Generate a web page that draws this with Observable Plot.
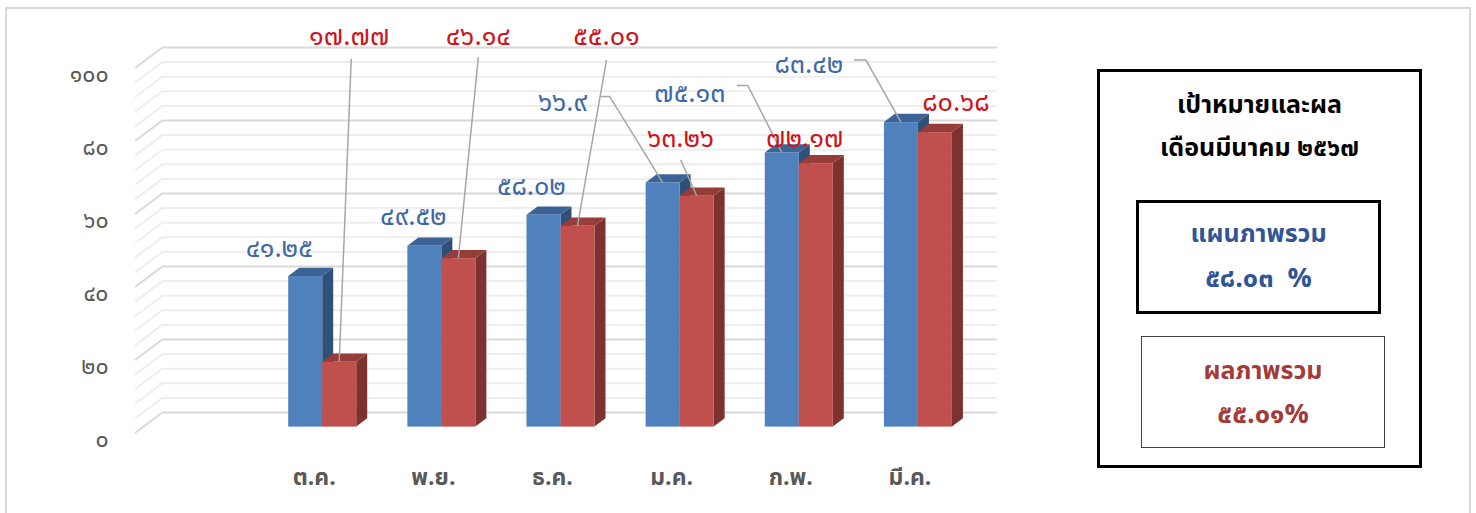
<!DOCTYPE html>
<html><head><meta charset="utf-8">
<script src="https://cdn.jsdelivr.net/npm/d3@7"></script>
<script src="https://cdn.jsdelivr.net/npm/@observablehq/plot@0.6"></script>
<style>
body{margin:0;background:#fff;font-family:"Noto Sans Thai","Noto Sans Thai Looped","Noto Sans",sans-serif;}
#frame{position:absolute;left:5px;top:7px;width:1466px;height:530px;border:2px solid #d9d9d9;box-sizing:border-box;}
#chart{position:absolute;left:0;top:0;}
#panel{position:absolute;left:1097px;top:69px;width:325px;height:399px;border:3px solid #000;box-sizing:border-box;}
.line{position:absolute;left:0;width:100%;text-align:center;line-height:30px;height:30px;white-space:pre;font-weight:bold;font-size:25px;}
.num{font-size:27px;}
.box{position:absolute;box-sizing:border-box;}
</style></head><body>
<div id="frame"></div>
<div id="chart"></div>
<div id="panel">
  <div class="line" style="top:18px;color:#000">เป้าหมายและผล</div>
  <div class="line" style="top:61px;color:#000">เดือนมีนาคม ๒๕๖๗</div>
  <div class="box" style="left:36px;top:128px;width:245px;height:114px;border:3px solid #000;">
    <div class="line" style="top:16px;color:#2F5597">แผนภาพรวม</div>
    <div class="line num" style="top:61px;color:#2F5597">๕๘.๐๓  %</div>
  </div>
  <div class="box" style="left:41px;top:264px;width:244px;height:112px;border:1.5px solid #404040;">
    <div class="line" style="top:19px;color:#A33B39">ผลภาพรวม</div>
    <div class="line num" style="top:63px;color:#A33B39">๕๕.๐๑%</div>
  </div>
</div>
<script>
// ---- data ----
const months = ["ต.ค.", "พ.ย.", "ธ.ค.", "ม.ค.", "ก.พ.", "มี.ค."];
const plan = [41.25, 49.52, 58.02, 66.9, 75.13, 83.42];
const result = [17.77, 46.14, 55.01, 63.26, 72.17, 80.68];
const yTicks = [0, 20, 40, 60, 80, 100];
const gridValues = d3.range(0, 101, 4);

const thaiDigits = "๐๑๒๓๔๕๖๗๘๙";
const toThai = v => String(v).replace(/\d/g, d => thaiDigits[+d]);

// ---- layout / style (pixels) ----
const W = 1080, H = 513;
const wall = [28, -21];
const shift = [8.5, -6.4];
const depth = [11, -8.25];
const barW = 0.2854;
const C = {
  planFront: "#4F81BD", planTop: "#3C6396", planSide: "#2F5078",
  resFront: "#C0504D", resTop: "#963D3A", resSide: "#7D3230",
  planText: "#3F69A6", resText: "#D0141C",
  gridMinor: "#EEEEEE", gridMajor: "#D9D9D9", leader: "#A6A6A6", axis: "#595959"
};
const planLayout = [
  {dx: -26, dy: -27}, {dx: -11, dy: -28}, {dx: -12, dy: -27},
  {dx: -100, dy: -79, leader: [[-62, -86], [-53, -86]]},
  {dx: -92, dy: -58, leader: [[-45, -67], [-34, -67]]},
  {dx: -92, dy: -57, leader: [[-47, -62], [-35, -62]]}
];
const resultLayout = [
  {dx: 10, dy: -324, leader: [[12, -303]]},
  {dx: 20, dy: -221, leader: [[20, -201]]},
  {dx: 29, dy: -188, leader: [[29, -166]]},
  {dx: -16, dy: -56, leader: [[-16, -36]]},
  {dx: -11, dy: -24}, {dx: 21, dy: -29}
];

const rows = months.map((m, i) => ({month: m, pos: i + 1.5, plan: plan[i], result: result[i]}));

const faces = (key, x1f, x2f, topColor, sideColor) => (index, scales) => {
  const g = d3.create("svg:g");
  for (const d of rows) {
    const xl = scales.x(x1f(d)) + shift[0], xr = scales.x(x2f(d)) + shift[0];
    const yt = scales.y(d[key]) + shift[1], yb = scales.y(0) + shift[1];
    g.append("path").attr("fill", sideColor)
      .attr("d", `M${xr},${yb}L${xr + depth[0]},${yb + depth[1]}L${xr + depth[0]},${yt + depth[1]}L${xr},${yt}Z`);
    g.append("path").attr("fill", topColor)
      .attr("d", `M${xl},${yt}L${xr},${yt}L${xr + depth[0]},${yt + depth[1]}L${xl + depth[0]},${yt + depth[1]}Z`);
  }
  return g.node();
};

const diagonals = (index, scales) => {
  const g = d3.create("svg:g");
  const x0 = scales.x(0);
  for (const v of gridValues) {
    const y0 = scales.y(v);
    g.append("line").attr("x1", x0).attr("y1", y0).attr("x2", x0 + wall[0]).attr("y2", y0 + wall[1])
      .attr("stroke", v % 20 === 0 ? C.gridMajor : C.gridMinor).attr("stroke-width", 2);
  }
  return g.node();
};

const labels = (index, scales) => {
  const g = d3.create("svg:g");
  const series = [
    {key: "plan", off: -barW / 2, layout: planLayout, color: C.planText},
    {key: "result", off: barW / 2, layout: resultLayout, color: C.resText}
  ];
  for (const s of series) {
    rows.forEach((d, i) => {
      const bx = scales.x(d.pos + s.off) + shift[0];
      const by = scales.y(d[s.key]) + shift[1];
      const L = s.layout[i];
      if (L.leader) {
        const pts = [...L.leader, [0, 0]].map(([a, b]) => [bx + a, by + b]);
        g.append("path").attr("fill", "none").attr("stroke", C.leader).attr("stroke-width", 1.5)
          .attr("d", "M" + pts.map(p => p.join(",")).join("L"));
      }
    });
  }
  for (const s of series) {
    rows.forEach((d, i) => {
      const bx = scales.x(d.pos + s.off) + shift[0];
      const by = scales.y(d[s.key]) + shift[1];
      const L = s.layout[i];
      g.append("text").attr("x", bx + L.dx).attr("y", by + L.dy)
        .attr("text-anchor", "middle").attr("dominant-baseline", "middle")
        .attr("fill", s.color).attr("font-size", 27).text(toThai(d[s.key]));
    });
  }
  return g.node();
};

const chart = Plot.plot({
  width: W, height: H,
  marginLeft: 135, marginRight: W - 969, marginTop: 68, marginBottom: 80,
  style: {fontFamily: '"Noto Sans Thai","Noto Sans Thai Looped","Noto Sans",sans-serif', background: "transparent", overflow: "visible"},
  x: {domain: [0, 7], axis: null},
  y: {domain: [0, 100], axis: null},
  marks: [
    Plot.ruleY(gridValues.filter(v => v % 20 !== 0), {y: d => d, dx: wall[0], dy: wall[1], stroke: C.gridMinor, strokeWidth: 2}),
    Plot.ruleY(yTicks, {y: d => d, dx: wall[0], dy: wall[1], stroke: C.gridMajor, strokeWidth: 2}),
    diagonals,
    Plot.text(yTicks, {x: 0, y: d => d, text: d => toThai(d), textAnchor: "end", dx: -27, dy: 6, fontSize: 23, fill: C.axis}),
    Plot.text(rows, {x: "pos", y: 0, text: "month", dy: 44, fontSize: 23, fontWeight: "bold", fill: C.axis}),
    faces("plan", d => d.pos - barW, d => d.pos, C.planTop, C.planSide),
    Plot.rect(rows, {x1: d => d.pos - barW, x2: d => d.pos, y1: 0, y2: "plan", dx: shift[0], dy: shift[1], fill: C.planFront}),
    faces("result", d => d.pos, d => d.pos + barW, C.resTop, C.resSide),
    Plot.rect(rows, {x1: d => d.pos, x2: d => d.pos + barW, y1: 0, y2: "result", dx: shift[0], dy: shift[1], fill: C.resFront}),
    labels
  ]
});
document.getElementById("chart").appendChild(chart);
</script>
</body></html>
